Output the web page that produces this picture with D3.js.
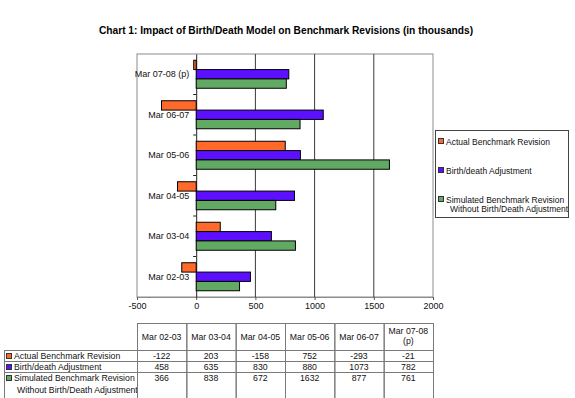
<!DOCTYPE html>
<html>
<head>
<meta charset="utf-8">
<style>
  body { margin: 0; background: #fff; }
  svg { font-family: "Liberation Sans", Arial, sans-serif; }
</style>
</head>
<body>
<script src="https://cdn.jsdelivr.net/npm/d3@7"></script>
<script>
// data (thousands)
var categories = ["Mar 02-03", "Mar 03-04", "Mar 04-05", "Mar 05-06", "Mar 06-07", "Mar 07-08 (p)"];
var actual = [-122, 203, -158, 752, -293, -21];
var birthDeath = [458, 635, 830, 880, 1073, 782];
var simulated = [366, 838, 672, 1632, 877, 761];
var seriesNames = ["Actual Benchmark Revision", "Birth/death Adjustment",
  "Simulated Benchmark Revision\nWithout Birth/Death Adjustment"];
var seriesColors = ["#ff6a2a", "#5c10ff", "#62aa64"];
var xTicks = [-500, 0, 500, 1000, 1500, 2000];

var series = [actual, birthDeath, simulated];

var svg = d3.select("body").append("svg")
  .attr("width", 575)
  .attr("height", 398);

var margin = {top: 54, left: 137},
    width = 296,
    height = 243;

var x = d3.scaleLinear().domain([-500, 2000]).range([margin.left, margin.left + width]);
// top category is the latest one
var y = d3.scaleBand().domain(categories.slice().reverse())
  .range([margin.top, margin.top + height]);
var yInner = d3.scaleBand().domain([0, 1, 2])
  .range([0, 28]);
var offset = (y.bandwidth() - 28) / 2;

// title
svg.append("text")
  .attr("x", 286)
  .attr("y", 34)
  .attr("text-anchor", "middle")
  .style("font-weight", "bold")
  .style("font-size", "10.2px")
  .text("Chart 1: Impact of Birth/Death Model on Benchmark Revisions (in thousands)");

// plot area frame
svg.append("rect")
  .attr("x", margin.left)
  .attr("y", margin.top)
  .attr("width", width)
  .attr("height", height)
  .attr("fill", "#fff")
  .attr("stroke", "#8c8c8c");

// gridlines
svg.append("g")
  .selectAll("line")
  .data([500, 1000, 1500])
  .enter().append("line")
  .attr("x1", function(d) { return x(d); })
  .attr("x2", function(d) { return x(d); })
  .attr("y1", margin.top)
  .attr("y2", margin.top + height)
  .attr("stroke", "#3a3a3a");

// x axis
var xAxis = svg.append("g")
  .attr("transform", "translate(0," + (margin.top + height) + ")")
  .call(d3.axisBottom(x).tickValues(xTicks).tickFormat(String).tickSize(3).tickPadding(3));
xAxis.select(".domain").attr("stroke", "#8c8c8c");
xAxis.selectAll(".tick line").attr("stroke", "#555");
xAxis.selectAll("text").style("font-size", "9px").attr("fill", "#111");

// category axis at zero
var yAxis = svg.append("g")
  .attr("transform", "translate(" + x(0) + ",0)")
  .call(d3.axisLeft(y).tickSize(0).tickPadding(7));
yAxis.select(".domain").attr("stroke", "#222");
yAxis.selectAll("text").style("font-size", "9px").attr("fill", "#111");

// ticks between categories
svg.append("g")
  .selectAll("line")
  .data(y.domain().slice(1))
  .enter().append("line")
  .attr("x1", x(0) - 3)
  .attr("x2", x(0))
  .attr("y1", function(d) { return y(d); })
  .attr("y2", function(d) { return y(d); })
  .attr("stroke", "#222");

// bars
series.forEach(function(vals, s) {
  svg.append("g")
    .selectAll("rect")
    .data(vals)
    .enter().append("rect")
    .attr("x", function(d) { return x(Math.min(0, d)); })
    .attr("width", function(d) { return Math.abs(x(d) - x(0)); })
    .attr("y", function(d, i) { return y(categories[i]) + offset + yInner(s); })
    .attr("height", yInner.bandwidth())
    .attr("fill", seriesColors[s])
    .attr("stroke", "#000")
    .attr("stroke-width", 1);
});

// legend
var legend = svg.append("g");
legend.append("rect")
  .attr("x", 435.5)
  .attr("y", 130.5)
  .attr("width", 133)
  .attr("height", 87)
  .attr("fill", "#fff")
  .attr("stroke", "#444");

var legendY = [141.5, 170.5, 199.5];
seriesNames.forEach(function(name, s) {
  legend.append("rect")
    .attr("x", 438.5)
    .attr("y", legendY[s] - 3)
    .attr("width", 5)
    .attr("height", 5)
    .attr("fill", seriesColors[s])
    .attr("stroke", "#333");
  var t = legend.append("text")
    .attr("x", 446)
    .attr("y", legendY[s] + 3)
    .style("font-size", "8.5px")
    .attr("fill", "#111");
  name.split("\n").forEach(function(line, k) {
    t.append("tspan")
      .attr("x", 446 + (k ? 4 : 0))
      .attr("dy", k ? 9.5 : 0)
      .text(line);
  });
});

// data table
var table = svg.append("g").style("font-size", "8.7px").attr("fill", "#111");
var colW = width / categories.length;
var rowY = [323.5, 350.5, 361.5, 372.5, 399];
var gridColor = "#7a7a7a";

// header cells
categories.forEach(function(c, i) {
  var cx = margin.left + i * colW;
  table.append("rect")
    .attr("x", cx + 0.5)
    .attr("y", rowY[0])
    .attr("width", colW)
    .attr("height", rowY[1] - rowY[0])
    .attr("fill", "none")
    .attr("stroke", gridColor);
  var parts = c.indexOf("(p)") > 0 ? ["Mar 07-08", "(p)"] : [c];
  parts.forEach(function(p, k) {
    table.append("text")
      .attr("x", cx + colW / 2)
      .attr("y", parts.length > 1 ? 334 + k * 10 : 340)
      .attr("text-anchor", "middle")
      .text(p);
  });
});

// body rows
series.forEach(function(vals, s) {
  var top = rowY[s + 1], bottom = rowY[s + 2];
  table.append("rect")
    .attr("x", 4.5)
    .attr("y", top)
    .attr("width", margin.left - 4)
    .attr("height", bottom - top)
    .attr("fill", "none")
    .attr("stroke", gridColor);
  table.append("rect")
    .attr("x", 6.5)
    .attr("y", top + 3)
    .attr("width", 5)
    .attr("height", 5)
    .attr("fill", seriesColors[s])
    .attr("stroke", "#333");
  var t = table.append("text")
    .attr("x", 14)
    .attr("y", top + 8.5);
  seriesNames[s].split("\n").forEach(function(line, k) {
    t.append("tspan")
      .attr("x", 14 + (k ? 3 : 0))
      .attr("dy", k ? 11.5 : 0)
      .text(line);
  });
  vals.forEach(function(v, i) {
    var cx = margin.left + i * colW;
    table.append("rect")
      .attr("x", cx + 0.5)
      .attr("y", top)
      .attr("width", colW)
      .attr("height", bottom - top)
      .attr("fill", "none")
      .attr("stroke", gridColor);
    table.append("text")
      .attr("x", cx + colW / 2)
      .attr("y", top + 8.5)
      .attr("text-anchor", "middle")
      .text(v);
  });
});
</script>
</body>
</html>
